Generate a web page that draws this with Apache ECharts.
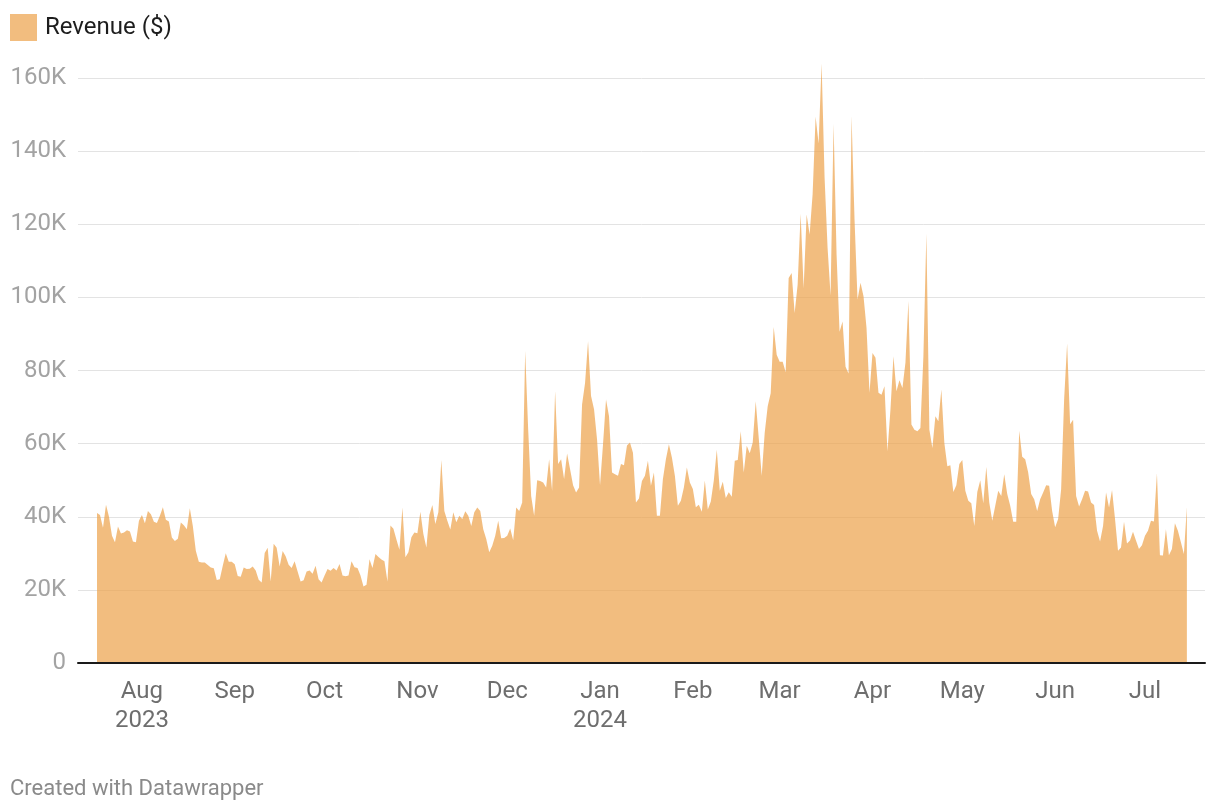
<!DOCTYPE html>
<html>
<head>
<meta charset="utf-8">
<script src="https://cdn.jsdelivr.net/npm/echarts@6/dist/echarts.min.js"></script>
<style>
  html, body { margin: 0; padding: 0; background: #fff; }
  #chart { width: 1220px; height: 810px; }
</style>
</head>
<body>
<div id="chart"></div>
<script>
// ---- Data ----
const seriesName = 'Revenue ($)';
const startDate = '2023-07-17'; // first daily value
// Daily revenue in thousands of dollars, one value per day from startDate
const revenueK = [
  41, 40.5, 37, 43.3, 40, 34.8, 33, 37.3, 35.4, 35.7, 36.3, 36, 33.2, 33, 38.9, 40.5, 38.2, 41.6, 40.7, 38.6,
  38.3, 40.3, 42.6, 39.2, 38.7, 34.3, 33.4, 34, 38.4, 37.7, 36.6, 42.3, 37.5, 30.7, 27.7, 27.5, 27.5, 26.8, 26.1, 25.9,
  22.7, 22.9, 26.6, 30, 27.7, 27.7, 27, 23.8, 23.6, 26.1, 25.7,
  25.8, 26.4, 25.3, 22.8, 22, 30.1, 31.5, 22.3, 32.6, 31.5, 26.4, 30.6, 29.2, 26.9, 26, 27.8, 25, 22.3, 22.6, 25,
  25.3, 24.4, 26.6, 22.9, 22, 23.9, 25.7, 25.2, 26, 25.3, 27.1, 23.9, 23.7, 23.9, 27.8, 26.2, 26, 23.9, 20.9, 21.4,
  28.4, 26, 29.8, 29, 28.3, 27.8, 22.3, 37.6, 36.7, 33.8, 31,
  42.5, 28.9, 30.3, 34.4, 35.7, 35.5, 41.4, 35.3, 31.6, 40.5, 43.2, 38, 41.2, 55.5, 41.6, 38.9, 36.5, 41.2, 38.5, 40.3,
  39.4, 41.5, 40.3, 37.5, 41.2, 42.5, 41.6, 36.6, 33.9, 30.3, 32.1, 34.8, 38.9, 34.1, 34.2, 34.8, 36.8, 33.6, 42.5, 41.6,
  43.9, 85.3, 63.9,
  45.7, 40.3, 50, 49.8, 49.4, 48, 55.7, 47.1, 74.4, 54.4, 55.7, 50.3, 57.3, 53, 48.6, 46.6, 48, 70.7, 76.6, 88,
  73, 69.4, 61.2, 48.6, 59.8, 72.1, 67.5, 52.1, 51.6, 51.2, 54.4, 54.1, 59.5, 60.3, 57.5, 43.9, 45, 49.8, 51.2, 55.3,
  48.5, 52.1, 40.3, 40.3, 50.3, 55.7, 59.8, 56.2, 51.2, 43,
  44.4, 48, 53.5, 49.4, 47.6, 42.6, 43.3, 41.4, 49.9, 42, 44.2, 49.9, 58.3, 47.1, 49.6, 45.1, 46.7, 45.5, 55.3, 55.5,
  63.4, 52.1, 59.4, 57.4, 60.3, 71.6, 61.6, 51.2, 63, 70.2, 73.8, 91.9, 84.3, 82.4, 82.4, 79.5, 105.3,
  106.7, 95.7, 103.5, 122.9, 102.5, 122.7, 117.2, 128.2, 149.4, 142.1, 164, 132.7, 113.5, 100.5, 147.4, 111.7, 90.6, 93.4, 81, 79.2,
  149.6, 121.3, 99.4, 104, 100.3, 91.7, 73.9, 84.8, 83.5, 73.9, 73.4, 75.7, 57.9, 69.3, 83.9, 74.3, 77.3, 75.2, 82.1, 99,
  65.2, 63.8, 63.4, 64.3, 83.9, 117.5, 63.8, 58.8, 67.5, 66.1, 74.8, 60.2, 53.8,
  54.1, 46.8, 48.6, 54.4, 55.5, 47.1, 44.4, 43.7, 37.5, 46.8, 50, 43.7, 53.6, 43.9, 38.9, 43, 47.1, 45.7, 51.6, 46.2,
  43, 38.6, 38.6, 63.5, 56.4, 55.7, 52.1, 46.2, 44.8, 41.6, 44.8, 46.6, 48.6, 48.5, 41.6, 37.1, 39.4,
  47.5, 72.1, 87.4, 65.3, 66.5, 45.7, 42.8, 44.8, 47.1, 46.9, 43.9, 43.2, 36.2, 33.2, 37.5, 46.6, 42.5, 47.3, 39.4, 30.7,
  31.6, 38.6, 32.7, 33.5, 35.9, 33.5, 31.2, 32.2, 34.8, 36.2, 38.9, 38.7, 51.9, 29.5, 29.4, 36.6, 29.5, 31.2, 38.2, 36.2,
  33, 29.8, 42.7
];
// x-axis tick labels (placed at the first day of each month)
const tickDates = ['2023-08-01','2023-09-01','2023-10-01','2023-11-01','2023-12-01','2024-01-01',
                   '2024-02-01','2024-03-01','2024-04-01','2024-05-01','2024-06-01','2024-07-01'];
const tickLabels = ['Aug\n2023','Sep','Oct','Nov','Dec','Jan\n2024','Feb','Mar','Apr','May','Jun','Jul'];
// y-axis ticks
const yTicks = [0, 20000, 40000, 60000, 80000, 100000, 120000, 140000, 160000];
const yTickLabels = ['0','20K','40K','60K','80K','100K','120K','140K','160K'];

// ---- Build ----
const DAY = 86400000;
const t0 = Date.parse(startDate + 'T00:00:00Z');
const dayOf = s => Math.round((Date.parse(s + 'T00:00:00Z') - t0) / DAY);
const tickDays = tickDates.map(dayOf);
const points = revenueK.map((v, i) => [i, v * 1000]);

const FONT = 'Roboto, sans-serif';
const chart = echarts.init(document.getElementById('chart'), null, { renderer: 'canvas' });
chart.setOption({
  animation: false,
  backgroundColor: '#ffffff',
  textStyle: { fontFamily: FONT },
  legend: {
    left: 10, top: 14, padding: 0,
    icon: 'rect', itemWidth: 27, itemHeight: 27, itemGap: 10,
    textStyle: { fontSize: 24, color: '#1d1d1d', fontFamily: FONT, padding: [0, 0, 0, 3] },
    data: [seriesName]
  },
  title: {
    text: 'Created with Datawrapper',
    left: 10, top: 778, padding: 0,
    textStyle: { fontSize: 22, fontWeight: 'normal', color: '#8a8a8a', fontFamily: FONT }
  },
  grid: { left: 78, right: 15, top: 78, bottom: 147, containLabel: false },
  xAxis: {
    type: 'value',
    min: -6.35,
    max: 370.05,
    z: 5,
    axisLine: { show: true, onZero: false, lineStyle: { color: '#1a1a1a', width: 2 } },
    axisTick: { show: false, customValues: tickDays },
    splitLine: { show: false },
    axisLabel: {
      customValues: tickDays,
      margin: 14,
      fontSize: 24,
      lineHeight: 29,
      color: '#6e6e6e',
      fontFamily: FONT,
      formatter: v => { const i = tickDays.indexOf(Math.round(v)); return i >= 0 ? tickLabels[i] : ''; }
    }
  },
  yAxis: {
    type: 'value',
    min: 0, max: 160000, interval: 20000,
    axisLine: { show: false },
    axisTick: { show: false },
    splitLine: { show: true, lineStyle: { color: '#e3e3e3', width: 1 } },
    axisLabel: {
      margin: 12,
      fontSize: 24,
      color: '#a3a3a3',
      fontFamily: FONT,
      formatter: v => { const i = yTicks.indexOf(v); return i >= 0 ? yTickLabels[i] : ''; }
    }
  },
  series: [{
    name: seriesName,
    type: 'line',
    data: points,
    clip: false,
    symbol: 'none',
    showSymbol: false,
    itemStyle: { color: '#f2bd7f' },
    lineStyle: { width: 0, opacity: 0 },
    areaStyle: { color: 'rgba(236,161,72,0.7)', opacity: 1 }
  }]
});
</script>
</body>
</html>
